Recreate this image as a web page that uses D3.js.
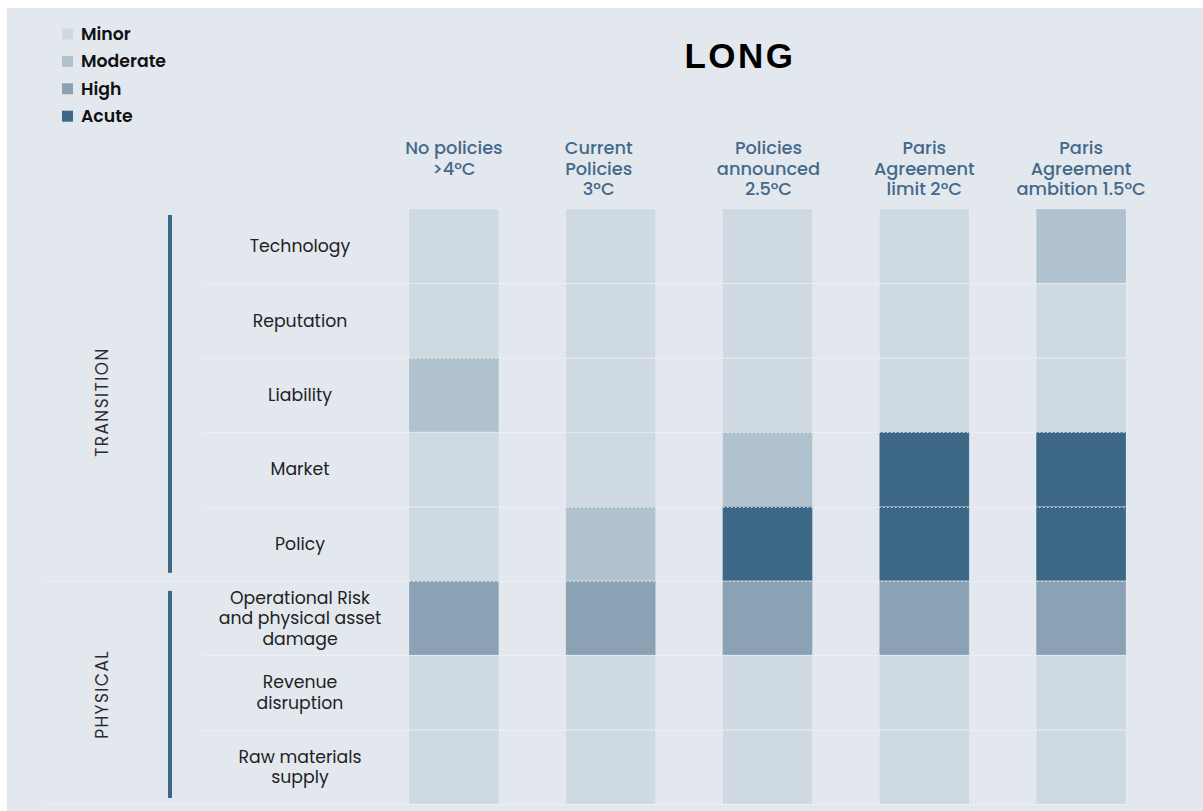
<!DOCTYPE html>
<html>
<head>
<meta charset="utf-8">
<script src="https://cdn.jsdelivr.net/npm/d3@7"></script>
<style>
  html, body { margin: 0; padding: 0; background: #ffffff; }
  svg { display: block; }
</style>
</head>
<body>
<svg id="chart" width="1203" height="811"></svg>
<script>
// ---- data ----
const levels = ["Minor", "Moderate", "High", "Acute"];
const levelColors = ["#cfd9e1", "#b0c2cd", "#8ba2b5", "#3d6786"];
const scenarios = ["No policies >4°C", "Current Policies 3°C", "Policies announced 2.5°C", "Paris Agreement limit 2°C", "Paris Agreement ambition 1.5°C"];
const scenarioLines = [["No policies", ">4°C"], ["Current", "Policies", "3°C"], ["Policies", "announced", "2.5°C"], ["Paris", "Agreement", "limit 2°C"], ["Paris", "Agreement", "ambition 1.5°C"]];
const risks = ["Technology", "Reputation", "Liability", "Market", "Policy", "Operational Risk and physical asset damage", "Revenue disruption", "Raw materials supply"];
const riskLines = [["Technology"], ["Reputation"], ["Liability"], ["Market"], ["Policy"], ["Operational Risk", "and physical asset", "damage"], ["Revenue", "disruption"], ["Raw materials", "supply"]];
const groups = [{ name: "TRANSITION", from: "Technology", to: "Policy" }, { name: "PHYSICAL", from: "Operational Risk and physical asset damage", to: "Raw materials supply" }];
// level index per scenario (columns) for each risk (rows order above)
const noPolicies      = [0, 0, 1, 0, 0, 2, 0, 0];
const currentPolicies = [0, 0, 0, 0, 1, 2, 0, 0];
const announced       = [0, 0, 0, 1, 3, 2, 0, 0];
const parisLimit      = [0, 0, 0, 3, 3, 2, 0, 0];
const parisAmbition   = [1, 0, 0, 3, 3, 2, 0, 0];
const seriesValues = [noPolicies, currentPolicies, announced, parisLimit, parisAmbition];
const title = "LONG";

// ---- drawing ----
const svg = d3.select("#chart");
const W = 1203, H = 811;
const labelFont = "Poppins, 'Noto Sans', sans-serif";

svg.append("rect").attr("x", 7).attr("y", 8).attr("width", W - 7).attr("height", H - 8).attr("fill", "#e3e8ef");

const x = d3.scaleBand().domain(scenarios).range([409, 1126]).paddingInner(0.427).paddingOuter(0);
const y = d3.scaleBand().domain(risks).range([209, 804]).padding(0);
const color = d3.scaleOrdinal().domain(d3.range(levels.length)).range(levelColors);

// cells
const cells = [];
scenarios.forEach((s, i) => risks.forEach((r, j) => cells.push({ s, r, v: seriesValues[i][j] })));
svg.append("g").selectAll("rect").data(cells).join("rect")
  .attr("x", d => x(d.s))
  .attr("y", d => y(d.r))
  .attr("width", x.bandwidth())
  .attr("height", y.bandwidth())
  .attr("fill", d => color(d.v))
  .attr("stroke", "rgba(255,255,255,0.18)")
  .attr("stroke-width", 1);

// dotted separators
const sepG = svg.append("g");
const sepStyle = sel => sel.attr("stroke", "#ffffff").attr("stroke-opacity", 0.75)
  .attr("stroke-width", 1).attr("stroke-dasharray", "1.5,2.5");
risks.forEach((r, j) => {
  if (j === 0) return;
  const yy = Math.round(y(r)) + 0.5;
  const full = (r === groups[1].from);
  sepG.append("line")
    .attr("x1", full ? 45 : 203).attr("x2", 1126)
    .attr("y1", yy).attr("y2", yy)
    .call(sepStyle);
});
{
  const yy = Math.round(y.range()[1]) + 0.5;
  sepG.append("line").attr("x1", 45).attr("x2", 1126).attr("y1", yy).attr("y2", yy).call(sepStyle);
}

// group bars and labels
groups.forEach((g, gi) => {
  const top = y(g.from) + (gi === 0 ? 6 : 10);
  const bottom = y(g.to) + y.bandwidth() - (gi === 0 ? 8 : 6);
  svg.append("rect").attr("x", 168).attr("y", top).attr("width", 4).attr("height", bottom - top).attr("fill", "#3d6786");
  const cy = (top + bottom) / 2 + (gi === 0 ? 8 : 0);
  svg.append("text")
    .attr("transform", `translate(108,${cy}) rotate(-90)`)
    .attr("text-anchor", "middle")
    .attr("font-family", labelFont)
    .attr("font-size", 17)
    .attr("letter-spacing", 1.4)
    .attr("fill", "#2b2b2b")
    .text(g.name);
});

// row labels
risks.forEach((r, j) => {
  const lines = riskLines[j];
  const lh = 20.5;
  const cy = y(r) + y.bandwidth() / 2;
  const t = svg.append("text")
    .attr("text-anchor", "middle")
    .attr("font-family", labelFont)
    .attr("font-size", 17.3)
    .attr("fill", "#222222");
  lines.forEach((ln, k) => {
    t.append("tspan").attr("x", 300)
      .attr("y", cy + (k - (lines.length - 1) / 2) * lh + 6)
      .text(ln);
  });
});

// column headers (the second header sits a little left of its column in the original)
const headerNudge = [0, -12, 1, 0, 0];
scenarios.forEach((s, i) => {
  const cx = x(s) + x.bandwidth() / 2 + headerNudge[i];
  const t = svg.append("text")
    .attr("text-anchor", "middle")
    .attr("font-family", labelFont)
    .attr("font-weight", 500)
    .attr("font-size", 17.8)
    .attr("fill", "#44698a");
  scenarioLines[i].forEach((ln, k) => {
    t.append("tspan").attr("x", cx).attr("y", 154 + k * 20.5).text(ln);
  });
});

// title
svg.append("text")
  .attr("x", 740).attr("y", 68)
  .attr("text-anchor", "middle")
  .attr("font-family", "'Liberation Sans', Arial, sans-serif")
  .attr("font-weight", "bold")
  .attr("font-size", 35)
  .attr("letter-spacing", 2.5)
  .attr("fill", "#000000")
  .text(title);

// legend
const lg = svg.append("g");
levels.forEach((l, i) => {
  const cy = 34 + i * 27.4;
  lg.append("rect").attr("x", 62).attr("y", cy - 5.5).attr("width", 11).attr("height", 11).attr("fill", color(i));
  lg.append("text").attr("x", 81).attr("y", cy + 6)
    .attr("font-family", labelFont).attr("font-weight", 600)
    .attr("font-size", 17.3).attr("fill", "#111111").text(l);
});
</script>
</body>
</html>
